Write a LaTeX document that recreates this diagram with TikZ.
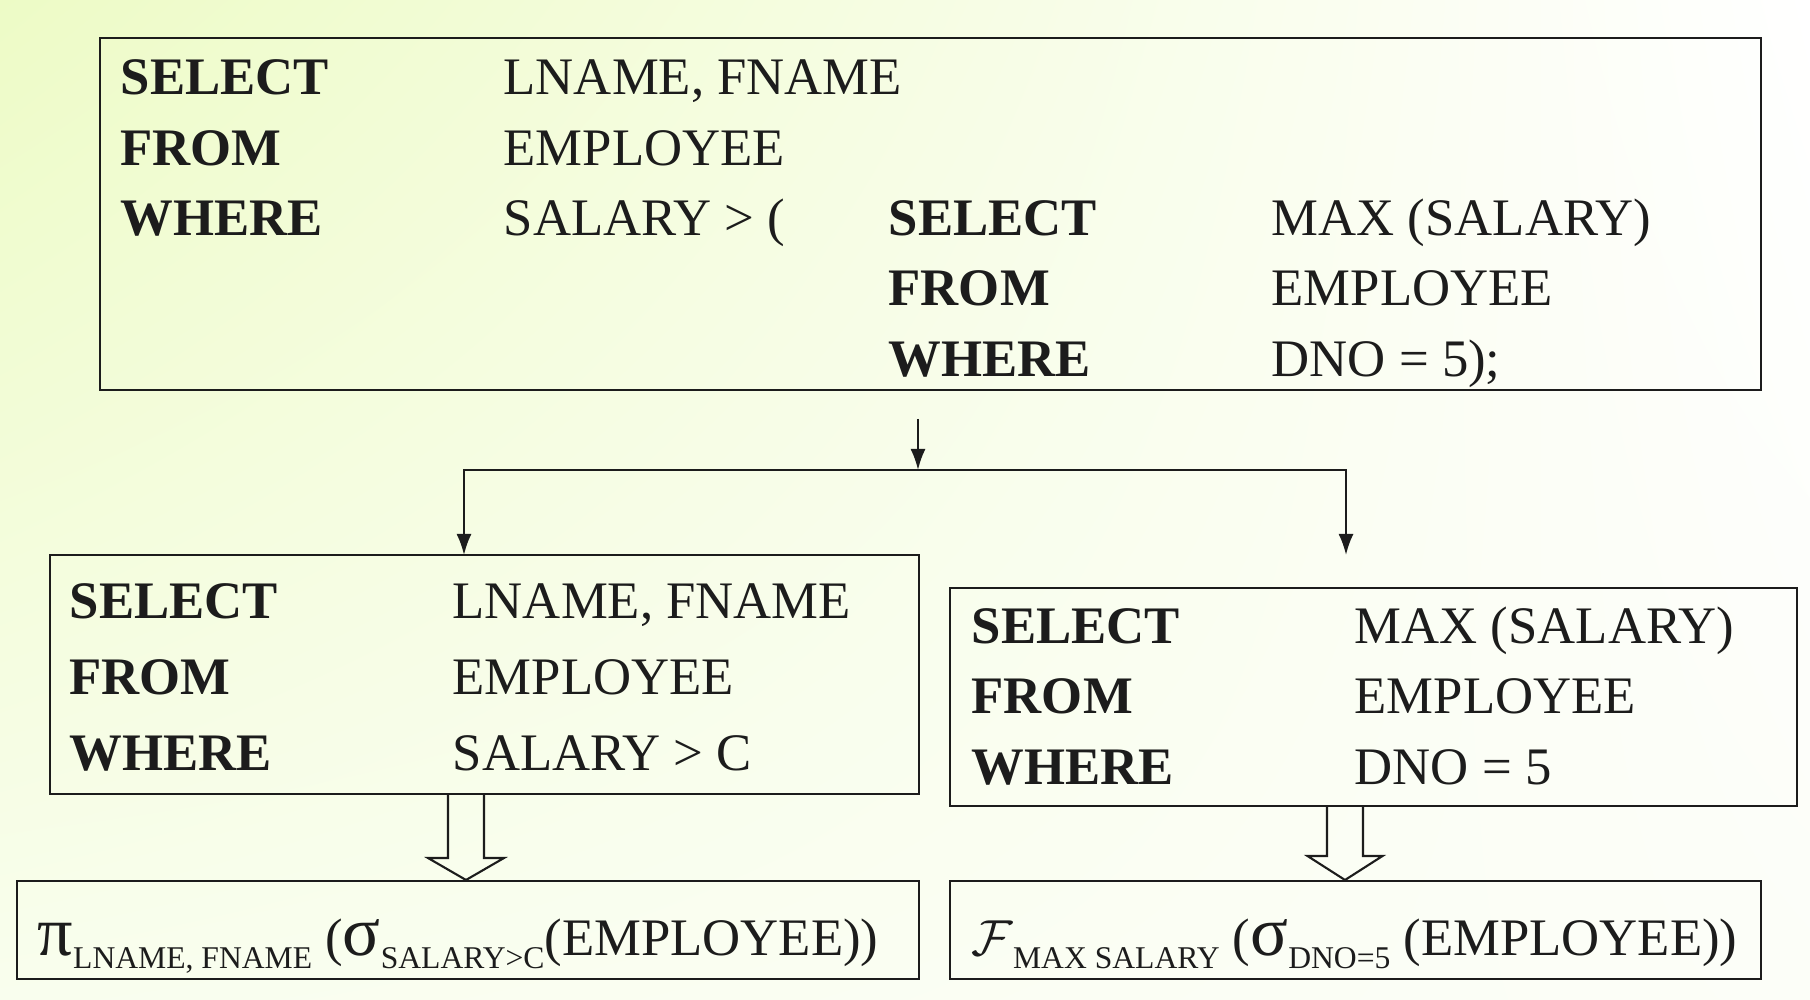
\documentclass[tikz,border=0pt]{standalone}
\usepackage{fontspec}
\setmainfont{Liberation Serif}
\usetikzlibrary{arrows.meta, calc, shadings}
\definecolor{PaleLime}{HTML}{EDFBC6}
\definecolor{SoftLime}{HTML}{F9FEEE}
\definecolor{MilkWhite}{HTML}{FCFEF8}
\definecolor{InkBlack}{HTML}{1C1C1C}
\newcommand{\qfont}{\fontsize{15}{18}\selectfont}
\newcommand{\gfont}{\fontsize{20}{20}\selectfont}
\newcommand{\qsub}[1]{\raisebox{-3.5pt}{\fontsize{9}{10}\selectfont #1}}
\tikzset{
  qbox/.style={draw=InkBlack, line width=0.6pt, inner sep=0pt},
  kw/.style={anchor=base west, inner sep=0pt, font=\qfont\bfseries, text=InkBlack},
  val/.style={anchor=base west, inner sep=0pt, font=\qfont, text=InkBlack},
  arrow/.style={-{Latex[length=2.1mm, width=1.5mm]}, line width=0.6pt, draw=InkBlack},
  fatarrow/.style={draw=InkBlack, line width=0.6pt, line join=miter}
}

\begin{document}
\begin{tikzpicture}
% slide background
\shade[upper left=PaleLime, upper right=white, lower left=SoftLime, lower right=MilkWhite] (0,0) rectangle (18.1,-10);
\useasboundingbox (0,0) rectangle (18.1,-10);

% boxes
\node[qbox, minimum width=16.61cm, minimum height=3.52cm] (outer) at (9.305,-2.14) {};
\node[qbox, minimum width=8.69cm, minimum height=2.39cm] (lq) at (4.845,-6.745) {};
\node[qbox, minimum width=8.47cm, minimum height=2.18cm] (rq) at (13.735,-6.97) {};
\node[qbox, minimum width=9.02cm, minimum height=0.98cm] (lra) at (4.68,-9.30) {};
\node[qbox, minimum width=8.11cm, minimum height=0.98cm] (rra) at (13.555,-9.30) {};

% nested query
\node[kw] (o-sel) at (1.20,-0.95) {SELECT};
\node[val] (o-selv) at (5.03,-0.95) {LNAME, FNAME};
\node[kw] (o-from) at (1.20,-1.66) {FROM};
\node[val] (o-fromv) at (5.03,-1.66) {EMPLOYEE};
\node[kw] (o-where) at (1.20,-2.36) {WHERE};
\node[val] (o-wherev) at (5.03,-2.36) {SALARY > (};
\node[kw] (i-sel) at (8.88,-2.36) {SELECT};
\node[val] (i-selv) at (12.71,-2.36) {MAX (SALARY)};
\node[kw] (i-from) at (8.88,-3.06) {FROM};
\node[val] (i-fromv) at (12.71,-3.06) {EMPLOYEE};
\node[kw] (i-where) at (8.88,-3.77) {WHERE};
\node[val] (i-wherev) at (12.71,-3.77) {DNO = 5);};

% outer block
\node[kw] (l-sel) at (0.69,-6.19) {SELECT};
\node[val] (l-selv) at (4.52,-6.19) {LNAME, FNAME};
\node[kw] (l-from) at (0.69,-6.95) {FROM};
\node[val] (l-fromv) at (4.52,-6.95) {EMPLOYEE};
\node[kw] (l-where) at (0.69,-7.71) {WHERE};
\node[val] (l-wherev) at (4.52,-7.71) {SALARY > C};

% inner block
\node[kw] (r-sel) at (9.71,-6.44) {SELECT};
\node[val] (r-selv) at (13.54,-6.44) {MAX (SALARY)};
\node[kw] (r-from) at (9.71,-7.14) {FROM};
\node[val] (r-fromv) at (13.54,-7.14) {EMPLOYEE};
\node[kw] (r-where) at (9.71,-7.85) {WHERE};
\node[val] (r-wherev) at (13.54,-7.85) {DNO = 5};

% algebra
\node[val] (l-alg) at (0.37,-9.56) {{\gfont π}\qsub{LNAME, FNAME} ({\gfont σ}\qsub{SALARY>C}(EMPLOYEE))};
\node[val] (r-alg) at (9.71,-9.56) {$\mathcal{F}$\qsub{MAX SALARY} ({\gfont σ}\qsub{DNO=5} (EMPLOYEE))};

% split arrows
\coordinate (src) at (9.18,-4.19);
\coordinate (split) at (9.18,-4.70);
\coordinate (lin) at (4.64,-5.55);
\coordinate (rin) at (13.46,-5.55);
\draw[arrow] (src) -- (split);
\draw[arrow] (split) -| (lin);
\draw[arrow] (split) -| (rin);

% block arrows
\coordinate (lq-out) at (4.66,-7.94);
\coordinate (rq-out) at (13.45,-8.07);
\draw[fatarrow] ($(lq-out)+(-0.18,0)$) -- ++(0,-0.64) -- ++(-0.20,0) -- ($(lq-out)+(0,-0.86)$)
  -- ++(0.38,0.22) -- ++(-0.20,0) -- ++(0,0.64);
\draw[fatarrow] ($(rq-out)+(-0.18,0)$) -- ++(0,-0.49) -- ++(-0.195,0) -- ($(rq-out)+(0,-0.73)$)
  -- ++(0.375,0.24) -- ++(-0.195,0) -- ++(0,0.49);
\end{tikzpicture}
\end{document}
